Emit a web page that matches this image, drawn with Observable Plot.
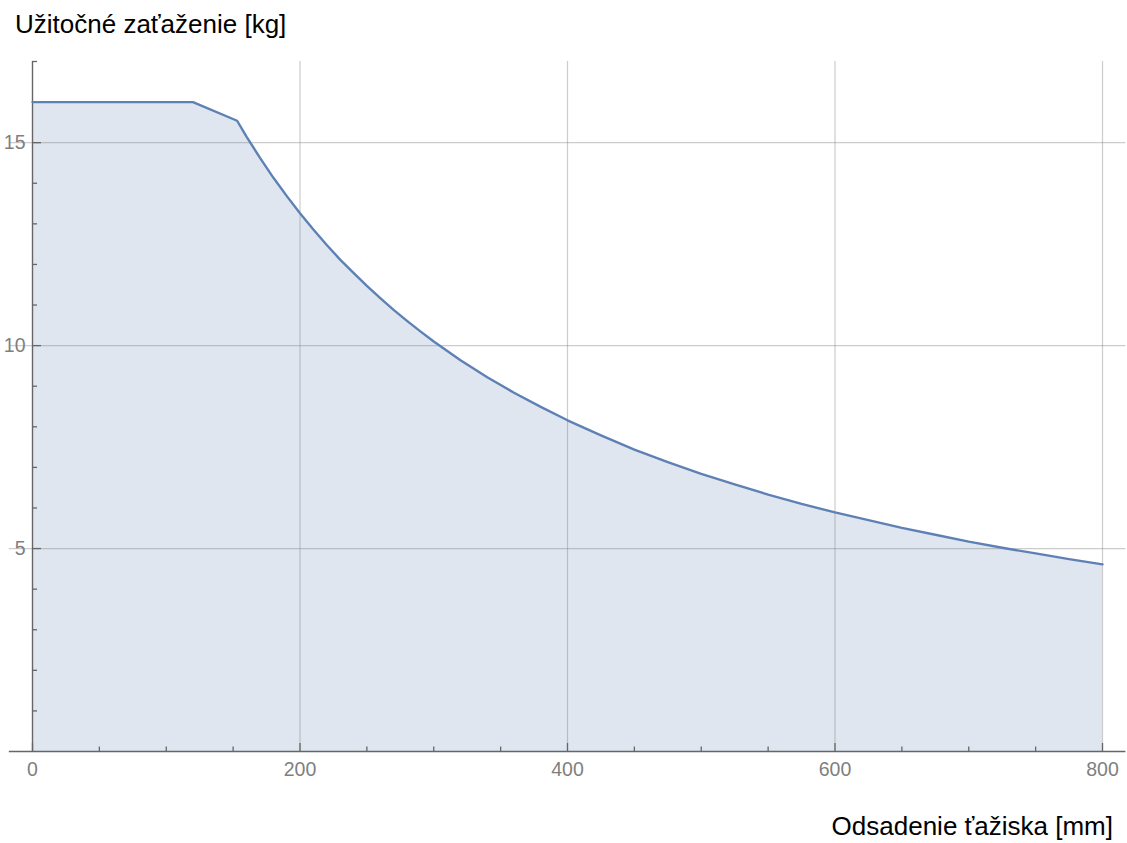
<!DOCTYPE html>
<html>
<head>
<meta charset="utf-8">
<script src="https://cdn.jsdelivr.net/npm/d3@7"></script>
<script src="https://cdn.jsdelivr.net/npm/@observablehq/plot@0.6"></script>
<style>
  html, body { margin: 0; padding: 0; background: #fff; }
  #wrap { position: relative; width: 1127px; height: 843px; overflow: hidden; }
  #wrap svg { position: absolute; left: 0; top: 0; }
  .lbl { position: absolute; font-family: "Liberation Sans", Arial, sans-serif; font-size: 26px; line-height: 30px; color: #000; white-space: nowrap; }
  #title { left: 15px; top: 9px; }
  #xlabel { right: 14px; top: 811px; }
</style>
</head>
<body>
<div id="wrap">
  <div id="chart"></div>
  <div class="lbl" id="title">Užitočné zaťaženie [kg]</div>
  <div class="lbl" id="xlabel">Odsadenie ťažiska [mm]</div>
</div>
<script>
// Offset of centre of gravity [mm]
const offsets = [0, 120, 153, 160, 170, 180, 190, 200, 210, 220, 230, 240, 250, 260, 270, 280, 290, 300, 320, 340, 360, 380, 400, 425, 450, 475, 500, 525, 550, 575, 600, 625, 650, 675, 700, 725, 750, 775, 800];
// Payload [kg]
const payloads = [16.0, 16.0, 15.54, 15.15, 14.63, 14.14, 13.69, 13.26, 12.86, 12.48, 12.12, 11.79, 11.47, 11.17, 10.88, 10.61, 10.35, 10.10, 9.64, 9.22, 8.84, 8.49, 8.16, 7.79, 7.44, 7.13, 6.84, 6.58, 6.33, 6.10, 5.89, 5.70, 5.51, 5.34, 5.17, 5.02, 4.88, 4.74, 4.61];

// Tick values
const xMajorTicks = [0, 200, 400, 600, 800];
const xMinorTicks = [50, 100, 150, 250, 300, 350, 450, 500, 550, 650, 700, 750];
const yMajorTicks = [5, 10, 15];
const yMinorTicks = [1, 2, 3, 4, 6, 7, 8, 9, 11, 12, 13, 14, 16, 17];
const xGrid = [200, 400, 600, 800];
const yGrid = [5, 10, 15];

const data = offsets.map((x, i) => ({x, y: payloads[i]}));

const lineColor = "#5E81B5";
const axisColor = "#666666";
const labelColor = "#7f7f7f";
const xLo = -17.3, xHi = 817.5;

const chart = Plot.plot({
  width: 1127,
  height: 843,
  marginLeft: 32,
  marginRight: 25,
  marginTop: 61,
  marginBottom: 92,
  x: {domain: [0, 800]},
  y: {domain: [0, 17]},
  style: {fontFamily: "'Liberation Sans', Arial, sans-serif", background: "white"},
  marks: [
    Plot.areaY(data, {x: "x", y: "y", fill: lineColor, fillOpacity: 0.2}),
    Plot.ruleX(xGrid, {x: d => d, y1: 0, y2: 17, stroke: "#808080", strokeOpacity: 0.4, strokeWidth: 1.2}),
    Plot.ruleY(yGrid, {y: d => d, x1: xLo, x2: xHi, stroke: "#808080", strokeOpacity: 0.4, strokeWidth: 1.2}),
    Plot.ruleY([0], {y: d => d, x1: xLo, x2: xHi, stroke: axisColor, strokeWidth: 1.4}),
    Plot.ruleX([0], {x: d => d, y1: 0, y2: 17, stroke: axisColor, strokeWidth: 1.4}),
    Plot.ruleX(xMajorTicks, {x: d => d, y1: 0, y2: 0, insetBottom: 8, stroke: axisColor, strokeWidth: 1.3}),
    Plot.ruleX(xMinorTicks, {x: d => d, y1: 0, y2: 0, insetBottom: 4.5, stroke: axisColor, strokeWidth: 1.3}),
    Plot.ruleY(yMajorTicks, {y: d => d, x1: 0, x2: 0, insetRight: -9, stroke: axisColor, strokeWidth: 1.3}),
    Plot.ruleY(yMinorTicks, {y: d => d, x1: 0, x2: 0, insetRight: -5, stroke: axisColor, strokeWidth: 1.3}),
    Plot.axisX(xMajorTicks, {tickSize: 0, tickPadding: 11, fontSize: 19.5, color: labelColor, label: null}),
    Plot.axisY(yMajorTicks, {tickSize: 0, tickPadding: 7, fontSize: 19.5, color: labelColor, label: null}),
    Plot.line(data, {x: "x", y: "y", stroke: lineColor, strokeWidth: 2.4, strokeLinejoin: "round"})
  ]
});
document.getElementById("chart").appendChild(chart);
</script>
</body>
</html>
